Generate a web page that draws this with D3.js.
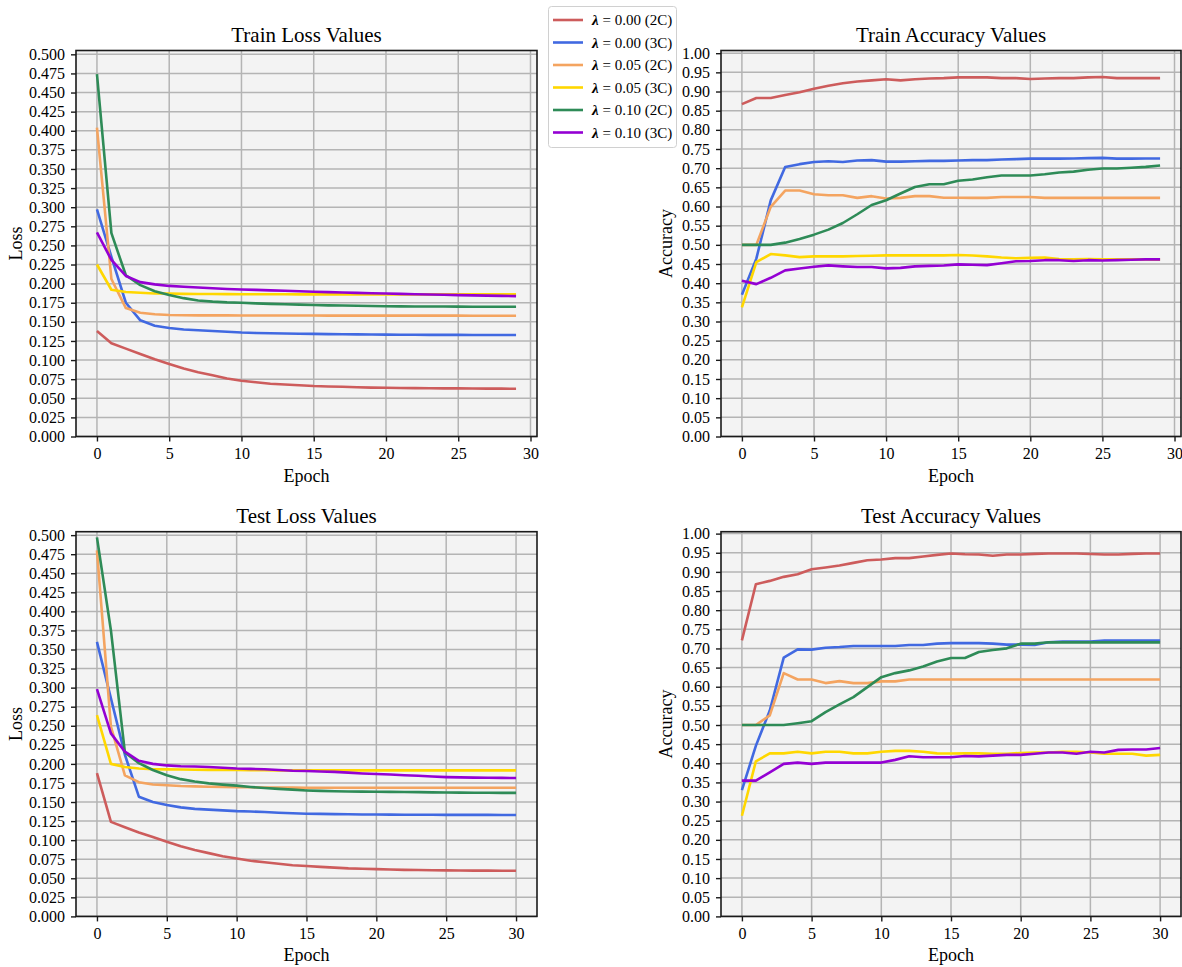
<!DOCTYPE html>
<html>
<head>
<meta charset="utf-8">
<script src="https://cdn.jsdelivr.net/npm/d3@7"></script>
<style>
  html, body { margin: 0; padding: 0; background: #ffffff; }
  svg { display: block; }
  text { font-family: "Liberation Serif", "Times New Roman", serif; fill: #000; }
</style>
</head>
<body>
<svg id="chart" width="1182" height="967"></svg>
<script>
// ---------------- data ----------------
const seriesLambda = ["0.00", "0.00", "0.05", "0.05", "0.10", "0.10"];
const seriesClass  = ["2C", "3C", "2C", "3C", "2C", "3C"];
const seriesColors = ["#cd5c5c", "#4169e1", "#f4a460", "#ffd700", "#2e8b57", "#9400d3"];

const lossTicks = d3.range(0, 21).map(i => i * 0.025);
const accTicks  = d3.range(0, 21).map(i => i * 0.05);
const epochTicks = [0, 5, 10, 15, 20, 25, 30];

// Train loss (epochs 0..29)
const trainLoss_000_2C = [0.138,0.122,0.115,0.108,0.101,0.095,0.089,0.084,0.080,0.076,0.073,0.071,0.069,0.068,0.067,0.066,0.0655,0.065,0.0645,0.064,0.0638,0.0635,0.0633,0.0631,0.063,0.063,0.0628,0.0627,0.0626,0.0625];
const trainLoss_000_3C = [0.297,0.235,0.175,0.152,0.145,0.142,0.140,0.139,0.138,0.137,0.136,0.1355,0.135,0.1348,0.1345,0.1342,0.134,0.1338,0.1336,0.1334,0.1333,0.1332,0.1331,0.133,0.133,0.1329,0.1328,0.1328,0.1327,0.1327];
const trainLoss_005_2C = [0.404,0.206,0.168,0.162,0.160,0.159,0.1587,0.1585,0.1585,0.1585,0.1584,0.1584,0.1583,0.1583,0.1583,0.1583,0.1582,0.1582,0.1582,0.1582,0.1582,0.1581,0.1581,0.1581,0.1581,0.1581,0.158,0.158,0.158,0.158];
const trainLoss_005_3C = [0.225,0.192,0.189,0.188,0.187,0.187,0.1866,0.1865,0.1864,0.1863,0.1862,0.1862,0.1861,0.1861,0.186,0.186,0.186,0.186,0.186,0.186,0.186,0.186,0.186,0.186,0.186,0.186,0.186,0.186,0.186,0.186];
const trainLoss_010_2C = [0.474,0.266,0.211,0.198,0.190,0.185,0.181,0.178,0.1765,0.1755,0.175,0.1742,0.1735,0.173,0.1725,0.172,0.1716,0.1713,0.171,0.1707,0.1705,0.1703,0.1701,0.170,0.170,0.1699,0.1698,0.1698,0.1697,0.1697];
const trainLoss_010_3C = [0.267,0.231,0.210,0.202,0.199,0.197,0.196,0.195,0.194,0.193,0.1924,0.1918,0.1912,0.1906,0.190,0.1894,0.1889,0.1884,0.1879,0.1874,0.187,0.1866,0.1862,0.1858,0.1854,0.185,0.1846,0.1843,0.184,0.1837];

// Train accuracy (epochs 0..29)
const trainAcc_000_2C = [0.867,0.883,0.883,0.891,0.898,0.907,0.915,0.9215,0.926,0.929,0.932,0.929,0.932,0.934,0.935,0.937,0.937,0.937,0.935,0.935,0.9325,0.934,0.935,0.935,0.937,0.938,0.935,0.935,0.935,0.935];
const trainAcc_000_3C = [0.370,0.464,0.616,0.703,0.7105,0.716,0.718,0.716,0.720,0.721,0.717,0.717,0.718,0.719,0.719,0.720,0.721,0.721,0.7227,0.7236,0.725,0.725,0.725,0.7253,0.7262,0.727,0.725,0.725,0.7253,0.7253];
const trainAcc_005_2C = [0.500,0.500,0.599,0.6417,0.6417,0.632,0.6295,0.6295,0.6225,0.627,0.621,0.6225,0.627,0.627,0.623,0.623,0.6225,0.6225,0.6247,0.6247,0.6247,0.6225,0.6225,0.6225,0.6225,0.6225,0.6225,0.6225,0.6225,0.6225];
const trainAcc_005_3C = [0.337,0.455,0.476,0.4725,0.468,0.470,0.470,0.470,0.471,0.4717,0.4725,0.4725,0.4725,0.4725,0.4725,0.4735,0.472,0.470,0.467,0.465,0.466,0.467,0.463,0.462,0.463,0.462,0.462,0.462,0.462,0.461];
const trainAcc_010_2C = [0.500,0.500,0.500,0.5057,0.515,0.5266,0.5397,0.557,0.5798,0.604,0.6164,0.634,0.651,0.658,0.658,0.667,0.6705,0.6765,0.681,0.681,0.681,0.684,0.6888,0.691,0.6957,0.699,0.699,0.701,0.7035,0.707];
const trainAcc_010_3C = [0.4064,0.3975,0.414,0.4333,0.4385,0.443,0.4464,0.4438,0.442,0.442,0.4385,0.440,0.4438,0.445,0.446,0.449,0.448,0.447,0.452,0.457,0.458,0.460,0.460,0.458,0.460,0.459,0.460,0.461,0.462,0.462];

// Test loss (epochs 0..30)
const testLoss_000_2C = [0.188,0.124,0.117,0.110,0.104,0.098,0.092,0.087,0.083,0.079,0.076,0.073,0.071,0.069,0.067,0.066,0.065,0.064,0.063,0.0625,0.062,0.0615,0.061,0.0608,0.0605,0.0603,0.0601,0.060,0.060,0.0599,0.0598];
const testLoss_000_3C = [0.360,0.286,0.212,0.157,0.150,0.146,0.143,0.141,0.140,0.139,0.138,0.1375,0.137,0.136,0.1353,0.1347,0.1344,0.1341,0.1339,0.1337,0.1336,0.1335,0.1334,0.1333,0.1333,0.1332,0.1332,0.1331,0.1331,0.133,0.133];
const testLoss_005_2C = [0.480,0.249,0.185,0.176,0.173,0.172,0.171,0.1705,0.170,0.1698,0.1695,0.1693,0.1691,0.169,0.1689,0.1688,0.1688,0.1688,0.1688,0.1688,0.1688,0.1688,0.1688,0.1688,0.1688,0.1688,0.1688,0.1688,0.1688,0.1688,0.1688];
const testLoss_005_3C = [0.264,0.200,0.196,0.194,0.193,0.1928,0.1926,0.1924,0.1922,0.192,0.192,0.1918,0.1916,0.1915,0.1915,0.1915,0.1915,0.1915,0.1915,0.1915,0.1915,0.1915,0.1915,0.1915,0.1915,0.1915,0.1915,0.1915,0.1915,0.1915,0.1915];
const testLoss_010_2C = [0.497,0.375,0.215,0.201,0.192,0.185,0.180,0.177,0.1745,0.1728,0.1715,0.1698,0.1683,0.1672,0.1662,0.1652,0.1646,0.1641,0.1638,0.1636,0.1635,0.1633,0.1631,0.163,0.1627,0.1625,0.1623,0.1622,0.1621,0.162,0.162];
const testLoss_010_3C = [0.298,0.240,0.216,0.204,0.200,0.198,0.197,0.1965,0.196,0.195,0.194,0.1935,0.193,0.192,0.191,0.1906,0.190,0.1895,0.1885,0.1875,0.1867,0.186,0.1852,0.1845,0.1835,0.1827,0.1823,0.182,0.1818,0.1816,0.1815];

// Test accuracy (epochs 0..30)
const testAcc_000_2C = [0.7212,0.8678,0.8765,0.887,0.894,0.907,0.9115,0.9167,0.9236,0.9306,0.9324,0.9359,0.9359,0.9403,0.9445,0.948,0.946,0.9455,0.942,0.9455,0.9455,0.947,0.948,0.948,0.948,0.9467,0.9455,0.9455,0.947,0.948,0.948];
const testAcc_000_3C = [0.330,0.4455,0.538,0.676,0.6976,0.697,0.702,0.7037,0.7063,0.7063,0.7063,0.7063,0.709,0.709,0.7125,0.714,0.714,0.714,0.7125,0.710,0.710,0.709,0.716,0.7178,0.7178,0.7178,0.7204,0.7207,0.7207,0.7207,0.7207];
const testAcc_005_2C = [0.500,0.500,0.525,0.6356,0.619,0.619,0.6095,0.6147,0.6095,0.6095,0.614,0.614,0.619,0.619,0.619,0.619,0.619,0.619,0.619,0.619,0.619,0.619,0.619,0.619,0.619,0.619,0.619,0.619,0.619,0.619,0.619];
const testAcc_005_3C = [0.263,0.405,0.426,0.426,0.430,0.426,0.430,0.430,0.426,0.426,0.430,0.4324,0.4324,0.430,0.426,0.4255,0.426,0.426,0.425,0.425,0.427,0.428,0.428,0.430,0.430,0.428,0.425,0.425,0.425,0.420,0.422];
const testAcc_010_2C = [0.500,0.500,0.500,0.500,0.5048,0.510,0.5335,0.5537,0.5728,0.599,0.625,0.6356,0.6427,0.653,0.666,0.675,0.675,0.6906,0.696,0.7003,0.7125,0.7125,0.716,0.716,0.716,0.716,0.716,0.716,0.716,0.716,0.716];
const testAcc_010_3C = [0.3547,0.3547,0.3765,0.3984,0.4018,0.3984,0.4018,0.4018,0.4018,0.4018,0.4018,0.4089,0.4184,0.4157,0.4157,0.4157,0.419,0.418,0.420,0.422,0.422,0.425,0.428,0.428,0.425,0.430,0.428,0.435,0.436,0.436,0.440];

// ---------------- layout ----------------
const FONT = "'Liberation Serif', 'Times New Roman', serif";
const panels = [
  { title: "Train Loss Values", ylabel: "Loss", series: [trainLoss_000_2C, trainLoss_000_3C, trainLoss_005_2C, trainLoss_005_3C, trainLoss_010_2C, trainLoss_010_3C],
    yTicks: lossTicks, yFmt: d3.format(".3f"), yMax: 0.505, xMin: -1.45, xMax: 30.45,
    left: 76, right: 537, top: 50.5, bottom: 436.5, labelOff: 54 },
  { title: "Train Accuracy Values", ylabel: "Accuracy", series: [trainAcc_000_2C, trainAcc_000_3C, trainAcc_005_2C, trainAcc_005_3C, trainAcc_010_2C, trainAcc_010_3C],
    yTicks: accTicks, yFmt: d3.format(".2f"), yMax: 1.007, xMin: -1.45, xMax: 30.45,
    left: 721, right: 1181, top: 50.5, bottom: 436.5, labelOff: 49 },
  { title: "Test Loss Values", ylabel: "Loss", series: [testLoss_000_2C, testLoss_000_3C, testLoss_005_2C, testLoss_005_3C, testLoss_010_2C, testLoss_010_3C],
    yTicks: lossTicks, yFmt: d3.format(".3f"), yMax: 0.5045, xMin: -1.5, xMax: 31.5,
    left: 76, right: 537, top: 531.7, bottom: 916.4, labelOff: 54 },
  { title: "Test Accuracy Values", ylabel: "Accuracy", series: [testAcc_000_2C, testAcc_000_3C, testAcc_005_2C, testAcc_005_3C, testAcc_010_2C, testAcc_010_3C],
    yTicks: accTicks, yFmt: d3.format(".2f"), yMax: 1.005, xMin: -1.5, xMax: 31.5,
    left: 721, right: 1181, top: 531.7, bottom: 916.4, labelOff: 49 }
];

const svg = d3.select("#chart");

panels.forEach(p => {
  const x = d3.scaleLinear().domain([p.xMin, p.xMax]).range([p.left, p.right]);
  const y = d3.scaleLinear().domain([0, p.yMax]).range([p.bottom, p.top]);
  const g = svg.append("g");

  g.append("rect").attr("x", p.left).attr("y", p.top)
    .attr("width", p.right - p.left).attr("height", p.bottom - p.top)
    .attr("fill", "#f3f3f3");

  g.append("g").selectAll("line").data(p.yTicks).join("line")
    .attr("x1", p.left).attr("x2", p.right)
    .attr("y1", d => y(d)).attr("y2", d => y(d))
    .attr("stroke", "#b4b4b4").attr("stroke-width", 1.5);
  g.append("g").selectAll("line").data(epochTicks).join("line")
    .attr("x1", d => x(d)).attr("x2", d => x(d))
    .attr("y1", p.top).attr("y2", p.bottom)
    .attr("stroke", "#b4b4b4").attr("stroke-width", 1.5);

  const line = d3.line().x((d, i) => x(i)).y(d => y(d));
  p.series.forEach((s, k) => {
    g.append("path").datum(s).attr("d", line)
      .attr("fill", "none").attr("stroke", seriesColors[k])
      .attr("stroke-width", 2.6).attr("stroke-linejoin", "round").attr("stroke-linecap", "butt");
  });

  g.append("rect").attr("x", p.left).attr("y", p.top)
    .attr("width", p.right - p.left).attr("height", p.bottom - p.top)
    .attr("fill", "none").attr("stroke", "#1a1a1a").attr("stroke-width", 1.6);

  const ax = g.append("g").attr("transform", `translate(0,${p.bottom})`)
    .call(d3.axisBottom(x).tickValues(epochTicks).tickFormat(d3.format("d")).tickSizeInner(5).tickSizeOuter(0).tickPadding(6));
  const ay = g.append("g").attr("transform", `translate(${p.left},0)`)
    .call(d3.axisLeft(y).tickValues(p.yTicks).tickFormat(p.yFmt).tickSizeInner(5).tickSizeOuter(0).tickPadding(6));
  [ax, ay].forEach(a => {
    a.attr("font-family", null).attr("font-size", null);
    a.select(".domain").remove();
    a.selectAll(".tick line").attr("stroke", "#1a1a1a").attr("stroke-width", 1.4);
    a.selectAll(".tick text").style("font-family", FONT).style("font-size", "16px").attr("fill", "#000");
  });

  g.append("text").attr("x", (p.left + p.right) / 2).attr("y", p.top - 9)
    .attr("text-anchor", "middle").style("font-family", FONT).style("font-size", "21px").text(p.title);
  g.append("text").attr("x", (p.left + p.right) / 2).attr("y", p.bottom + 45)
    .attr("text-anchor", "middle").style("font-family", FONT).style("font-size", "18px").text("Epoch");
  const yc = (p.top + p.bottom) / 2;
  g.append("text").attr("transform", `translate(${p.left - p.labelOff},${yc}) rotate(-90)`)
    .attr("text-anchor", "middle").style("font-family", FONT).style("font-size", "18px").text(p.ylabel);
});

// ---------------- legend ----------------
const lg = svg.append("g");
lg.append("rect").attr("x", 548.5).attr("y", 6.5).attr("width", 128).attr("height", 141)
  .attr("rx", 3).attr("fill", "#fff").attr("stroke", "#d0d0d0").attr("stroke-width", 1);
const rowY = d3.scaleLinear().domain([0, 5]).range([20, 132.5]);
seriesLambda.forEach((lam, i) => {
  const yy = rowY(i);
  lg.append("line").attr("x1", 553).attr("x2", 583).attr("y1", yy).attr("y2", yy)
    .attr("stroke", seriesColors[i]).attr("stroke-width", 2.6);
  const t = lg.append("text").attr("x", 592).attr("y", yy + 5).style("font-family", FONT).style("font-size", "15px");
  t.append("tspan").attr("font-weight", "bold").attr("font-style", "italic").text("λ");
  t.append("tspan").text(` = ${lam} (${seriesClass[i]})`);
});
</script>
</body>
</html>
